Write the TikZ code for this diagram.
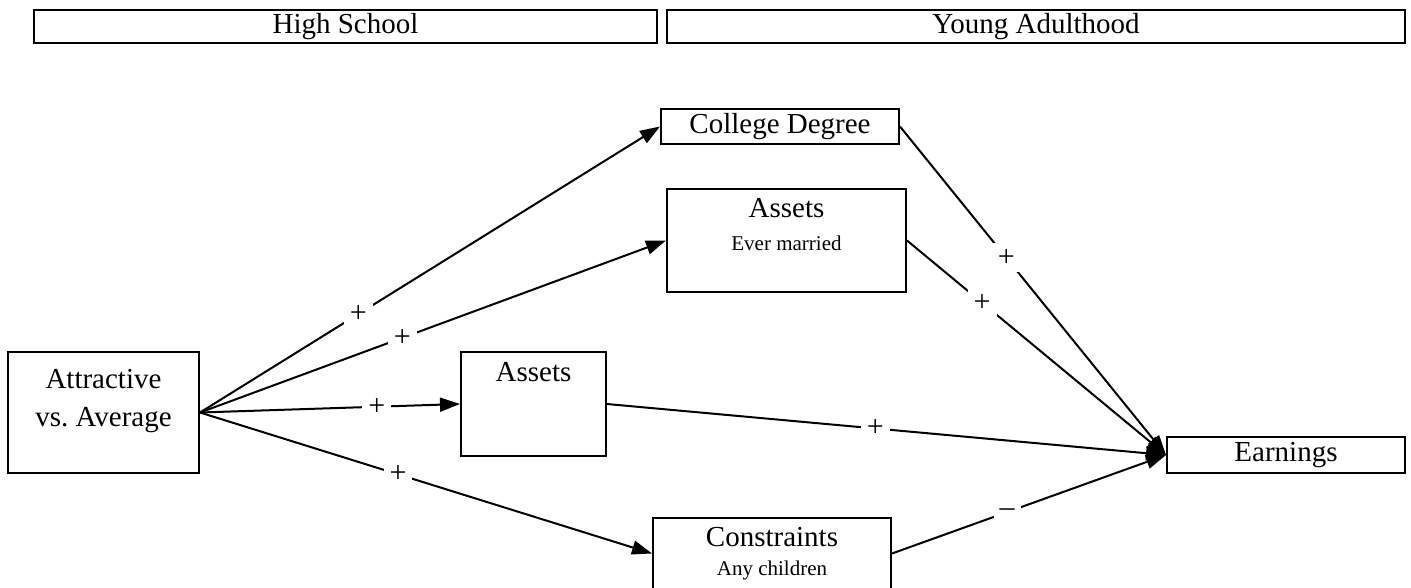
\documentclass[tikz,border=0pt]{standalone}
\usepackage{fontspec}
\setmainfont{Liberation Serif}
\usetikzlibrary{arrows.meta}

\begin{document}
\begin{tikzpicture}[x=1pt,y=-1pt,
  box/.style={draw,line width=2pt,inner sep=0pt,font=\fontsize{29}{33}\selectfont},
  big/.style={font=\fontsize{29}{38}\selectfont,inner sep=0pt,align=center},
  small/.style={font=\fontsize{21}{25}\selectfont,inner sep=0pt},
  link/.style={line width=2pt,-{Triangle[length=20pt,width=14pt]}},
  sign/.style={fill=white,font=\fontsize{30}{32}\selectfont,inner sep=6pt}]
\useasboundingbox (0,0) rectangle (1411,587);
\clip (0,0) rectangle (1411,587);

% period headers
\node[box,minimum width=623pt,minimum height=33pt] (hs) at (345.5,26.5) {High School};
\node[box,minimum width=738pt,minimum height=33pt] (ya) at (1036,26.5) {Young Adulthood};

% predictor
\node[box,minimum width=191pt,minimum height=121pt] (attr) at (103.5,412.5) {};
\node[big] (attrtext) at (103.5,401) {Attractive\\vs.\ Average};

% mediators
\node[box,minimum width=238pt,minimum height=35pt] (college) at (780,126.5) {College Degree};

\node[box,minimum width=239pt,minimum height=103pt] (married) at (786.5,240.5) {};
\node[big] (marriedtitle) at (786.5,208) {Assets};
\node[small] (marriedsub) at (786.5,243) {Ever married};

\node[box,minimum width=145pt,minimum height=104pt] (assets) at (533.5,404) {};
\node[big] (assetstitle) at (533.5,372) {Assets};

\node[box,minimum width=238pt,minimum height=71pt] (cons) at (772,553.5) {};
\node[big] (constitle) at (772,537) {Constraints};
\node[small] (conssub) at (772,570) {Any children};

% outcome
\node[box,minimum width=238pt,minimum height=36pt] (earn) at (1286,455) {Earnings};

% paths from the predictor
\draw[link] (attr.east) -- node[sign,pos=.344]{+} (college.west);
\draw[link] (attr.east) -- node[sign,pos=.434]{+} (married.west);
\draw[link] (attr.east) -- node[sign,pos=.68]{+} (assets.west);
\draw[link] (attr.east) -- node[sign,pos=.438]{+} (cons.west);

% paths to earnings
\draw[link] (college.east) -- node[sign,pos=.40]{+} (earn.west);
\draw[link] (married.east) -- node[sign,pos=.29]{+} (earn.west);
\draw[link] (assets.east) -- node[sign,pos=.48]{+} (earn.west);
\draw[link] (cons.east) -- node[sign,pos=.42]{–} (earn.west);
\end{tikzpicture}
\end{document}
